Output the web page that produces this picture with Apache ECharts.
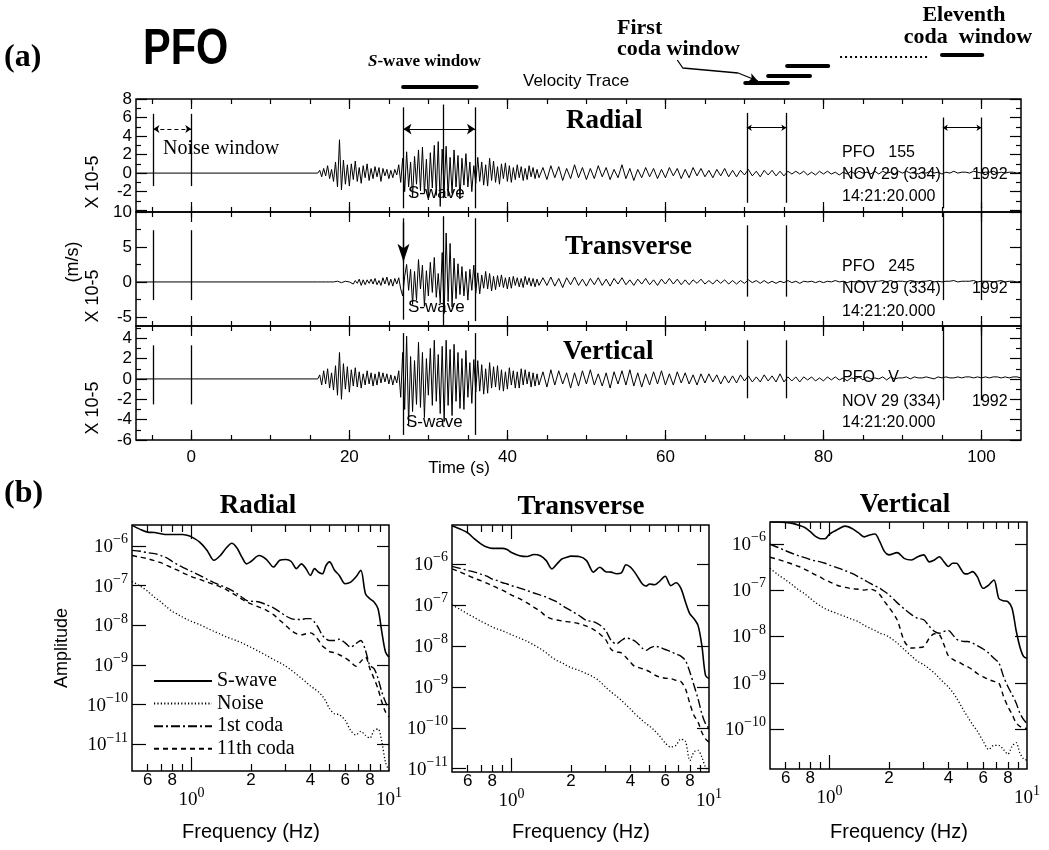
<!DOCTYPE html>
<html><head><meta charset="utf-8">
<script src="https://cdn.jsdelivr.net/npm/echarts@6/dist/echarts.min.js"></script>
<style>html,body{margin:0;padding:0;background:#fff}#chart{width:1049px;height:850px}</style>
</head><body><div id="chart"></div>
<script>
// ================= (a) velocity traces, units of 1e-5 m/s =================
const traceQuietStart = -7;          // s; traces are flat before 16 s
const fastStart = 16, fastStep = 0.25; // samples 16 s .. 44 s
const slowStart = 44.5, slowStep = 0.5; // samples 44.5 s .. 105 s

const radialFast = [0,0.3,-0.4,0.5,-0.3, 0.8,-0.6,0.4,-0.9, 1.2,-1.5,3.6,-1.8, 1.4,-1.2,0.9,-1.4, 1.0,-0.7,1.3,-0.9,
 0.6,-1.1,0.8,-0.5, 1.0,-0.8,0.5,-0.6, 0.7,-0.4,0.6,-0.9, 0.5,-0.3,0.4,-0.6, 0.3,-0.5,0.4,-0.2, 0.9,-1.0,1.6,-2.0,
 2.3,-1.5,1.2,-2.6, 1.8,-1.2,2.5,-1.9, 2.8,-2.2,1.5,-2.9, 2.2,-1.6,3.0,-2.4, 3.4,-3.6,2.6,-1.8, 2.9,-2.5,1.7,-2.2,
 2.5,-1.5,1.9,-2.8, 1.6,-1.3,2.1,-1.5, 1.2,-2.0,0.8,-1.1, 1.7,-0.9,1.2,-1.3, 0.9,-1.4,1.6,-0.8, 1.3,-1.0,0.7,-1.2,
 1.0,-0.6,1.1,-0.9, 0.8,-1.0,0.6,-0.7, 0.9,-0.5,0.7,-0.8, 0.5,-0.7,0.8,-0.4, 0.6,-0.6,0.4,-0.5];
const radialSlow = [0.6,-0.7,0.8,-0.5, 0.7,-0.8,0.5,-0.6, 0.9,-0.5,0.6,-0.7, 0.5,-0.6,0.8,-0.4, 0.6,-0.7,0.4,-0.5,
 0.9,-0.6,0.5,-0.8, 0.4,-0.5,0.6,-0.4, 0.5,-0.6,0.4,-0.5, 0.6,-0.3,0.5,-0.6, 0.4,-0.5,0.6,-0.3, 0.5,-0.4,0.3,-0.5,
 0.4,-0.3,0.5,-0.4, 0.3,-0.4,0.3,-0.2, 0.4,-0.3,0.2,-0.4, 0.3,-0.2,0.3,-0.3, 0.2,-0.3,0.2,-0.1, 0.2,-0.1,0.2,-0.2,
 0.1,-0.2,0.2,-0.1, 0.2,-0.1,0.1,-0.2, 0.1,-0.1,0.2,-0.1, 0.2,0.0,0.1,-0.1, 0.2,-0.1,0.2,0.0, 0.1,-0.1,0.2,0.0,
 0.2,0.0,0.1,-0.1, 0.1,0.0,0.2,0.0, 0.1,-0.1,0.1,0.0, 0.2,0.0,0.1,0.1, 0.0,0.2,0.1,0.0, 0.1,0.1,0.2,0.0,
 0.1,0.0,0.1,0.1, 0.0,0.1];

const transverseFast = [0,0,0,0,0, 0,0,0,0, 0,0.1,0,-0.1, 0,0.1,-0.1,0, 0.2,-0.3,0.2,-0.2, 0.4,-0.5,0.3,-0.4,
 0.3,-0.2,0.4,-0.3, 0.5,-0.4,0.2,-0.5, 0.6,-0.3,0.7,-0.5, 0.4,-0.6,0.5,-0.3, 0.6,-1.0,-2.0,0.8, 2.5,-1.2,1.8,-3.2,
 1.5,-2.6,3.2,-1.0, 2.4,-3.5,1.6,-2.0, 2.8,-1.5,3.5,-2.2, 1.2,-3.0,4.2,-4.5, 7.0,-2.8,5.5,-3.6, 3.4,-2.4,2.6,-1.8,
 2.2,-2.0,1.5,-2.6, 1.8,-1.2,2.4,-1.6, 1.3,-1.7,1.0,-0.9, 1.5,-1.0,1.2,-1.3, 0.8,-1.1,0.9,-0.7, 1.0,-0.8,0.6,-1.0,
 0.7,-0.9,0.8,-0.5, 0.6,-0.7,0.5,-0.8, 0.8,-0.4,0.6,-0.6, 0.5,-0.7,0.4,-0.5];
const transverseSlow = [0.6,-0.5,0.7,-0.6, 0.5,-0.8,0.6,-0.4, 0.7,-0.5,0.4,-0.6, 0.5,-0.4,0.6,-0.5, 0.4,-0.6,0.5,-0.3,
 0.6,-0.4,0.3,-0.5, 0.4,-0.3,0.5,-0.4, 0.3,-0.5,0.4,-0.3, 0.5,-0.3,0.4,-0.4, 0.3,-0.4,0.3,-0.2, 0.4,-0.3,0.2,-0.3,
 0.3,-0.2,0.3,-0.3, 0.2,-0.3,0.2,-0.2, 0.3,-0.1,0.2,-0.2, 0.2,-0.2,0.1,-0.2, 0.1,-0.1,0.2,-0.1, 0.1,-0.2,0.1,0.0,
 0.1,-0.1,0.1,-0.1, 0.1,0.0,0.2,0.0, 0.1,-0.1,0.1,0.0, 0.2,0.0,0.1,0.0, 0.1,0.1,0.2,0.0, 0.2,0.0,0.1,0.1,
 0.0,0.2,0.1,0.0, 0.1,0.1,0.2,0.0, 0.1,0.0,0.1,0.1, 0.2,0.0,0.1,0.1, 0.1,0.2,0.0,0.1, 0.1,0.1,0.0,0.1,
 0.2,0.0,0.1,0.1, 0.0,0.1];

const verticalFast = [0,0.4,-0.6,0.8,-0.5, 1.0,-0.9,0.6,-1.1, 1.3,-1.6,2.6,-2.0, 1.5,-1.0,1.2,-1.3, 0.9,-0.7,1.1,-0.8,
 0.7,-0.9,0.5,-0.6, 0.8,-0.5,0.6,-0.7, 0.5,-0.6,0.7,-0.4, 0.6,-0.3,0.5,-0.5, 0.4,-0.6,0.3,-0.4, 0.8,-1.8,2.6,-3.0,
 4.2,-4.5,2.2,-3.2, 1.8,-2.5,3.6,-2.8, 2.6,-3.8,2.0,-1.6, 3.0,-2.6,3.8,-2.2, 2.4,-3.4,3.2,-4.2, 3.8,-2.6,2.9,-3.6,
 3.4,-2.2,2.6,-2.9, 2.0,-3.0,2.8,-1.8, 1.6,-2.4,1.9,-1.3, 1.8,-1.2,1.4,-1.5, 1.0,-1.4,1.6,-0.9, 1.2,-0.8,1.3,-1.1,
 0.9,-1.2,0.7,-1.0, 1.1,-0.6,0.8,-0.9, 0.7,-0.9,1.0,-0.6, 0.9,-0.5,0.7,-0.8, 0.6,-0.7,0.5,-0.6];
const verticalSlow = [0.7,-0.8,0.9,-0.6, 0.8,-0.5,0.6,-0.9, 0.6,-0.7,0.8,-0.5, 0.9,-0.6,0.5,-0.7, 0.6,-0.9,0.7,-0.5,
 0.8,-0.6,0.9,-0.7, 0.6,-0.8,0.5,-0.6, 0.7,-0.5,0.8,-0.6, 0.5,-0.6,0.7,-0.4, 0.6,-0.5,0.4,-0.6, 0.5,-0.4,0.5,-0.3,
 0.4,-0.5,0.3,-0.4, 0.3,-0.4,0.4,-0.2, 0.3,-0.3,0.2,-0.3, 0.4,-0.2,0.3,-0.3, 0.5,-0.3,0.2,-0.2, 0.2,-0.3,0.2,-0.1,
 0.2,-0.2,0.1,-0.2, 0.2,-0.1,0.2,-0.1, 0.1,-0.2,0.1,0.0, 0.2,-0.1,0.2,0.0, 0.1,0.0,0.2,-0.1, 0.2,0.0,0.1,0.1,
 0.2,0.0,0.2,0.1, 0.1,0.2,0.1,0.0, 0.2,0.1,0.2,0.1, 0.1,0.2,0.1,0.2, 0.2,0.1,0.2,0.1, 0.2,0.1,0.2,0.2,
 0.1,0.2,0.1,0.2, 0.2,0.1];

// analysis windows (s)
const noiseWindow = [-4.8, 0];
const sWaveWindow = [26.85, 35.9];
const sWaveMidLine = 31.9;
const firstCodaWindow = [70.3, 75.3];
const eleventhCodaWindow = [95.1, 100];
const sWaveBar = [26.8, 36.1];
const codaBars = [[70.1, 75.5], [73.0, 78.3], [75.4, 80.6]];
const codaDots = [82.1, 93.2];
const eleventhBar = [95.0, 100.1];
const timeTicks = [0, 20, 40, 60, 80, 100];
const timeMinorTicks = [-5,0,5,10,15,20,25,30,35,40,45,50,55,60,65,70,75,80,85,90,95,100];

// ================= (b) spectra: log10 amplitude vs frequency (Hz) =================
const freqHz = [0.5,0.55,0.6,0.65,0.7,0.75,0.8,0.85,0.9,0.95,1.0,1.1,1.2,1.3,1.4,1.5,1.6,1.7,1.8,1.9,
 2.0,2.2,2.4,2.6,2.8,3.0,3.2,3.4,3.6,3.8,4.0,4.2,4.4,4.6,4.8,5.0,5.3,5.6,6.0,6.4,6.8,7.2,7.6,8.0,8.4,8.8,9.2,9.6,10];

const radialSwave = [-5.48,-5.58,-5.65,-5.66,-5.69,-5.71,-5.71,-5.71,-5.71,-5.73,-5.77,-5.90,-6.11,-6.36,-6.24,-6.05,-5.93,-6.05,-6.28,-6.45,
 -6.39,-6.24,-6.34,-6.53,-6.36,-6.34,-6.39,-6.57,-6.45,-6.57,-6.74,-6.57,-6.66,-6.70,-6.49,-6.40,-6.61,-6.74,-6.95,-6.91,-6.78,-6.61,-7.20,-7.33,-7.41,-7.58,-8.17,-8.67,-8.80];
const radialNoise = [-6.89,-7.01,-7.14,-7.29,-7.41,-7.54,-7.65,-7.72,-7.79,-7.85,-7.90,-7.98,-8.07,-8.15,-8.22,-8.29,-8.34,-8.39,-8.44,-8.50,
 -8.55,-8.66,-8.76,-8.86,-8.94,-9.03,-9.13,-9.23,-9.33,-9.43,-9.53,-9.60,-9.68,-9.78,-9.92,-10.10,-10.23,-10.25,-10.39,-10.65,-10.76,-10.67,-10.77,-10.84,-10.65,-10.61,-10.94,-11.45,-11.66];
const radialCoda1 = [-6.11,-6.13,-6.17,-6.19,-6.24,-6.30,-6.39,-6.47,-6.53,-6.59,-6.64,-6.74,-6.84,-6.92,-6.99,-7.05,-7.12,-7.20,-7.29,-7.37,
 -7.39,-7.41,-7.48,-7.56,-7.66,-7.76,-7.83,-7.85,-7.85,-7.83,-7.83,-7.92,-8.07,-8.25,-8.34,-8.38,-8.38,-8.35,-8.44,-8.55,-8.46,-8.38,-8.63,-9.01,-9.09,-9.34,-9.68,-9.93,-10.10];
const radialCoda11 = [-6.24,-6.28,-6.32,-6.37,-6.42,-6.49,-6.55,-6.61,-6.67,-6.72,-6.77,-6.84,-6.91,-6.97,-7.03,-7.10,-7.18,-7.26,-7.34,-7.41,
 -7.46,-7.54,-7.62,-7.73,-7.87,-8.00,-8.13,-8.21,-8.24,-8.21,-8.19,-8.25,-8.38,-8.52,-8.59,-8.66,-8.69,-8.74,-8.82,-8.92,-9.03,-8.91,-8.80,-9.09,-9.34,-9.60,-9.93,-10.18,-10.31];

const transverseSwave = [-5.07,-5.15,-5.24,-5.39,-5.51,-5.59,-5.62,-5.62,-5.62,-5.65,-5.72,-5.80,-5.82,-5.77,-5.80,-5.92,-6.12,-6.00,-5.88,-5.84,
 -5.81,-5.82,-5.92,-6.20,-6.08,-6.19,-6.20,-6.24,-6.22,-6.02,-6.08,-6.20,-6.35,-6.49,-6.54,-6.49,-6.51,-6.43,-6.30,-6.53,-6.46,-6.59,-6.93,-7.22,-7.34,-7.50,-7.99,-8.72,-8.80];
const transverseNoise = [-7.00,-7.11,-7.22,-7.31,-7.40,-7.47,-7.54,-7.59,-7.63,-7.68,-7.73,-7.81,-7.89,-7.98,-8.07,-8.17,-8.28,-8.36,-8.41,-8.48,
 -8.53,-8.60,-8.68,-8.76,-8.87,-9.01,-9.13,-9.23,-9.33,-9.44,-9.54,-9.65,-9.74,-9.82,-9.90,-9.96,-10.07,-10.19,-10.37,-10.47,-10.43,-10.28,-10.33,-10.80,-10.59,-10.55,-10.72,-10.96,-11.04];
const transverseCoda1 = [-6.06,-6.11,-6.16,-6.20,-6.25,-6.30,-6.37,-6.41,-6.46,-6.49,-6.53,-6.59,-6.65,-6.71,-6.76,-6.81,-6.87,-6.93,-7.01,-7.08,
 -7.14,-7.26,-7.38,-7.41,-7.49,-7.63,-7.87,-7.95,-7.87,-7.81,-7.83,-7.88,-7.96,-8.06,-8.11,-8.06,-8.01,-8.03,-8.09,-8.14,-8.20,-8.25,-8.36,-8.64,-8.97,-9.29,-9.66,-9.90,-10.02];
const transverseCoda11 = [-6.12,-6.20,-6.28,-6.35,-6.41,-6.47,-6.53,-6.59,-6.64,-6.70,-6.76,-6.85,-6.95,-7.06,-7.16,-7.28,-7.34,-7.37,-7.39,-7.41,
 -7.42,-7.46,-7.52,-7.60,-7.71,-7.85,-8.09,-8.15,-8.17,-8.28,-8.40,-8.50,-8.53,-8.56,-8.59,-8.63,-8.71,-8.76,-8.79,-8.80,-8.84,-8.87,-9.05,-9.41,-9.70,-9.86,-10.11,-10.27,-10.35];

const verticalSwave = [-5.53,-5.53,-5.54,-5.56,-5.60,-5.65,-5.74,-5.84,-5.89,-5.89,-5.79,-5.69,-5.62,-5.67,-5.76,-5.85,-5.81,-5.79,-5.96,-6.17,
 -6.24,-6.19,-6.32,-6.35,-6.28,-6.24,-6.39,-6.35,-6.28,-6.39,-6.49,-6.42,-6.42,-6.53,-6.64,-6.65,-6.60,-6.71,-6.96,-6.89,-6.78,-7.18,-7.23,-7.25,-7.39,-7.86,-8.22,-8.43,-8.47];
const verticalNoise = [-6.53,-6.67,-6.78,-6.89,-7.00,-7.08,-7.18,-7.27,-7.34,-7.40,-7.44,-7.51,-7.57,-7.63,-7.68,-7.76,-7.82,-7.87,-7.93,-7.96,
 -8.01,-8.14,-8.29,-8.42,-8.54,-8.61,-8.70,-8.79,-8.90,-9.00,-9.09,-9.20,-9.33,-9.47,-9.61,-9.73,-9.90,-10.04,-10.26,-10.44,-10.35,-10.35,-10.44,-10.54,-10.37,-10.29,-10.51,-10.64,-10.67];
const verticalCoda1 = [-6.01,-6.08,-6.15,-6.21,-6.26,-6.30,-6.34,-6.37,-6.39,-6.42,-6.46,-6.52,-6.58,-6.64,-6.71,-6.78,-6.85,-6.91,-6.96,-7.03,
 -7.10,-7.27,-7.41,-7.53,-7.61,-7.64,-7.78,-7.89,-7.93,-7.89,-7.87,-7.96,-8.06,-8.09,-8.11,-8.11,-8.14,-8.20,-8.27,-8.36,-8.47,-8.57,-8.86,-9.08,-9.25,-9.43,-9.65,-9.79,-9.88];
const verticalCoda11 = [-6.29,-6.34,-6.39,-6.44,-6.49,-6.55,-6.61,-6.67,-6.72,-6.78,-6.82,-6.90,-6.94,-6.97,-6.98,-7.00,-6.98,-7.01,-7.10,-7.25,
 -7.37,-7.64,-8.11,-8.25,-8.24,-8.22,-8.04,-7.94,-7.96,-8.18,-8.42,-8.49,-8.54,-8.57,-8.62,-8.65,-8.72,-8.80,-8.87,-8.93,-8.97,-9.00,-9.29,-9.51,-9.68,-9.86,-9.94,-9.97,-9.99];

const freqLabels = [0.6, 0.8, 2, 4, 6, 8];
const freqMinorTicks = [0.6,0.7,0.8,0.9,2,3,4,5,6,7,8,9];
const legendNames = ['S-wave', 'Noise', '1st coda', '11th coda'];

// ================= build =================
const K = '#000';
const SANS = "'Liberation Sans', Arial, sans-serif";
const SERIF = "'Liberation Serif', 'Times New Roman', serif";

const grids = [], xAxis = [], yAxis = [], series = [];
function addX(gi, o) { xAxis.push(Object.assign({gridIndex: gi, axisLine: {show: false, onZero: false}, splitLine: {show: false}}, o)); return xAxis.length - 1; }
function addY(gi, o) { yAxis.push(Object.assign({gridIndex: gi, axisLine: {show: false, onZero: false}, splitLine: {show: false}}, o)); return yAxis.length - 1; }
function ticks(vals, len) { return {show: true, inside: true, length: len, customValues: vals, lineStyle: {color: K, width: 1.2}}; }
const noLabel = {show: false};

function traceData(fast, slow) {
  const d = [[traceQuietStart, 0]];
  fast.forEach((v, i) => d.push([fastStart + i * fastStep, v]));
  slow.forEach((v, i) => d.push([slowStart + i * slowStep, v]));
  return d;
}
function vseg(t, y1, y2) { return [{coord: [t, y1]}, {coord: [t, y2]}]; }
function harrow(t1, t2, y, size, dashed) {
  return [{coord: [t1, y], symbol: 'arrow', symbolSize: size, lineStyle: {type: dashed ? [4, 3] : 'solid', width: 1.2, color: K}},
          {coord: [t2, y], symbol: 'arrow', symbolSize: size}];
}

const traceDefs = [
  {top: 99, height: 113, min: -4.2, max: 8, labels: [-2,0,2,4,6,8], major: [-4,-2,0,2,4,6,8], minor: [-3,-1,1,3,5,7],
   fast: radialFast, slow: radialSlow,
   marks: [vseg(noiseWindow[0], 6.4, -1.4), vseg(noiseWindow[1], 6.4, -1.4),
           vseg(sWaveWindow[0], 7.1, -3.8), vseg(sWaveMidLine, 7.4, -2.7), vseg(sWaveWindow[1], 7.1, -3.8),
           vseg(firstCodaWindow[0], 6.5, -3.2), vseg(firstCodaWindow[1], 6.5, -3.2),
           vseg(eleventhCodaWindow[0], 6.0, -3.8), vseg(eleventhCodaWindow[1], 6.0, -3.8),
           harrow(noiseWindow[0], noiseWindow[1], 4.75, 6, true), harrow(sWaveWindow[0], sWaveWindow[1], 4.75, 8, false),
           harrow(firstCodaWindow[0], firstCodaWindow[1], 4.9, 5, false), harrow(eleventhCodaWindow[0], eleventhCodaWindow[1], 4.9, 5, false)]},
  {top: 212, height: 114, min: -6.3, max: 10, labels: [-5,0,5,10], major: [-5,0,5,10], minor: [-2.5,2.5,7.5],
   fast: transverseFast, slow: transverseSlow,
   marks: [vseg(noiseWindow[0], 7.4, -2.6), vseg(noiseWindow[1], 7.4, -2.6),
           vseg(sWaveWindow[0], 9.1, -5.4), vseg(sWaveMidLine, 9.4, -6.2), vseg(sWaveWindow[1], 9.1, -5.6),
           vseg(firstCodaWindow[0], 8.1, -2.1), vseg(firstCodaWindow[1], 8.1, -2.1),
           vseg(eleventhCodaWindow[0], 10, -2.6), vseg(eleventhCodaWindow[1], 10, -2.6),
           [{coord: [sWaveWindow[0], 8.5], symbol: 'none'}, {coord: [sWaveWindow[0], 2.9], symbol: 'arrow', symbolSize: [9, 18]}]]},
  {top: 326, height: 114, min: -6, max: 5.2, labels: [-6,-4,-2,0,2,4], major: [-6,-4,-2,0,2,4], minor: [-5,-3,-1,1,3,5],
   fast: verticalFast, slow: verticalSlow,
   marks: [vseg(noiseWindow[0], 3.3, -2.5), vseg(noiseWindow[1], 3.3, -2.5),
           vseg(sWaveWindow[0], 4.5, -5.5), vseg(sWaveWindow[1], 4.5, -5.5),
           vseg(firstCodaWindow[0], 3.8, -1.9), vseg(firstCodaWindow[1], 3.8, -1.9),
           vseg(eleventhCodaWindow[0], 5.2, -2.1), vseg(eleventhCodaWindow[1], 5.2, -2.1)]}
];

traceDefs.forEach((d, i) => {
  grids.push({left: 136, right: 28, top: d.top, height: d.height, show: true, borderColor: K, borderWidth: 1.5, outerBoundsMode: 'none'});
  const base = {type: 'value', min: -7, max: 105};
  const xb = addX(i, Object.assign({}, base, {position: 'bottom', axisTick: ticks(timeMinorTicks, 5),
    axisLabel: i === 2 ? {customValues: timeTicks, color: K, fontFamily: SANS, fontSize: 17, margin: 9} : noLabel}));
  addX(i, Object.assign({}, base, {position: 'top', axisTick: ticks(timeMinorTicks, 5), axisLabel: noLabel}));
  addX(i, Object.assign({}, base, {position: 'bottom', axisTick: ticks(timeTicks, 10), axisLabel: noLabel}));
  addX(i, Object.assign({}, base, {position: 'top', axisTick: ticks(timeTicks, 10), axisLabel: noLabel}));
  const yb = {type: 'value', min: d.min, max: d.max};
  const yl = addY(i, Object.assign({}, yb, {position: 'left', axisTick: ticks(d.major, 11),
    axisLabel: {customValues: d.labels, color: K, fontFamily: SANS, fontSize: 17, margin: 4}}));
  addY(i, Object.assign({}, yb, {position: 'left', axisTick: ticks(d.minor, 5), axisLabel: noLabel}));
  addY(i, Object.assign({}, yb, {position: 'right', axisTick: ticks(d.major, 11), axisLabel: noLabel}));
  addY(i, Object.assign({}, yb, {position: 'right', axisTick: ticks(d.minor, 5), axisLabel: noLabel}));
  series.push({type: 'line', xAxisIndex: xb, yAxisIndex: yl, data: traceData(d.fast, d.slow), symbol: 'none',
    lineStyle: {color: K, width: 1}, silent: true, clip: true,
    markLine: {silent: true, symbol: ['none', 'none'], label: {show: false}, emphasis: {disabled: true},
      lineStyle: {color: K, width: 1.3, type: 'solid'}, data: d.marks}});
});

// header strip above the traces (window bars), shares the time scale
grids.push({left: 136, right: 28, top: 0, height: 99, show: false, outerBoundsMode: 'none'});
const hx = addX(3, {type: 'value', min: -7, max: 105, show: false});
const hy = addY(3, {type: 'value', min: 0, max: 99, inverse: true, show: false});
function bar(win, y, style) {
  series.push({type: 'line', xAxisIndex: hx, yAxisIndex: hy, data: [[win[0], y], [win[1], y]], symbol: 'none', silent: true,
    lineStyle: Object.assign({color: K, width: 4, cap: 'round'}, style || {})});
}
bar(sWaveBar, 87);
bar(codaBars[0], 83); bar(codaBars[1], 76); bar(codaBars[2], 66);
bar(codaDots, 57, {width: 2, type: [2, 3], cap: 'butt'});
bar(eleventhBar, 55);
series.push({type: 'line', xAxisIndex: hx, yAxisIndex: hy, data: [[61.5, 60], [62.2, 68], [69.2, 73]], symbol: 'none', silent: true,
  lineStyle: {color: K, width: 1.3},
  markLine: {silent: true, label: {show: false}, lineStyle: {color: K, width: 1.3, type: 'solid'},
    data: [[{coord: [69.2, 73], symbol: 'none'}, {coord: [71.7, 81], symbol: 'arrow', symbolSize: [7, 9]}]]}});

// spectra panels
const specDefs = [
  {left: 132, top: 525, width: 257, height: 246, min: -11.67, max: -5.47, dec: [-11,-10,-9,-8,-7,-6],
   curves: [radialSwave, radialNoise, radialCoda1, radialCoda11]},
  {left: 452, top: 525, width: 257, height: 247, min: -11.08, max: -5.05, dec: [-11,-10,-9,-8,-7,-6],
   curves: [transverseSwave, transverseNoise, transverseCoda1, transverseCoda11]},
  {left: 770, top: 522, width: 257, height: 247, min: -10.86, max: -5.53, dec: [-10,-9,-8,-7,-6],
   curves: [verticalSwave, verticalNoise, verticalCoda1, verticalCoda11]}
];
const supRich = {
  b: {fontFamily: SERIF, fontSize: 19, color: K, lineHeight: 24, verticalAlign: 'bottom'},
  s: {fontFamily: SERIF, fontSize: 14, color: K, lineHeight: 10, verticalAlign: 'top'}
};
const curveStyles = [
  {width: 1.6, type: 'solid'},
  {width: 1.3, type: [1.2, 2.2]},
  {width: 1.4, type: [9, 3, 2, 3]},
  {width: 1.4, type: [5, 4]}
];
specDefs.forEach((d, j) => {
  const gi = 4 + j;
  grids.push({left: d.left, top: d.top, width: d.width, height: d.height, show: true, borderColor: K, borderWidth: 1.5, outerBoundsMode: 'none'});
  const base = {type: 'log', logBase: 10, min: 0.5, max: 10};
  const xa = addX(gi, Object.assign({}, base, {position: 'bottom', axisTick: ticks(freqMinorTicks, 7),
    axisLabel: {customValues: freqLabels, formatter: v => (v < 1 ? String(Math.round(v * 10)) : String(v)),
      color: K, fontFamily: SANS, fontSize: 17, margin: 1}}));
  addX(gi, Object.assign({}, base, {position: 'top', axisTick: ticks(freqMinorTicks, 7), axisLabel: noLabel}));
  addX(gi, Object.assign({}, base, {position: 'bottom', axisTick: ticks([1], 14),
    axisLabel: {customValues: [1, 10], formatter: v => '{b|10}{s|' + Math.round(Math.log10(v)) + '}', rich: supRich, margin: 15}}));
  addX(gi, Object.assign({}, base, {position: 'top', axisTick: ticks([1], 14), axisLabel: noLabel}));
  const yb = {type: 'value', min: d.min, max: d.max};
  const ya = addY(gi, Object.assign({}, yb, {position: 'left', axisTick: ticks(d.dec, 14),
    axisLabel: {customValues: d.dec, formatter: v => '{b|10}{s|\u2212' + Math.abs(v) + '}', rich: supRich, margin: 4, padding: [0, 0, 3, 0]}}));
  addY(gi, Object.assign({}, yb, {position: 'right', axisTick: ticks(d.dec, 12), axisLabel: noLabel}));
  d.curves.forEach((c, k) => {
    series.push({name: legendNames[k], type: 'line', xAxisIndex: xa, yAxisIndex: ya, symbol: 'none', smooth: 0.3,
      data: freqHz.map((f, n) => [f, c[n]]), silent: true,
      lineStyle: Object.assign({color: K, cap: 'butt'}, curveStyles[k]), itemStyle: {color: K}});
  });
});

// texts
const G = [];
function txt(text, x, y, font, style, el) {
  G.push(Object.assign({type: 'text', x: x, y: y, silent: true,
    style: Object.assign({text: text, font: font, fill: K, align: 'left', verticalAlign: 'middle'}, style || {})}, el || {}));
}
const rot = {rotation: Math.PI / 2};
txt('(a)', 4, 58, `bold 32px ${SERIF}`);
txt('PFO', 143, 50, `bold 50px ${SANS}`, {}, {scaleX: 0.83});
txt('(b)', 4, 494, `bold 32px ${SERIF}`);
G.push({type: 'text', x: 368, y: 62, silent: true, style: {text: '{i|S}{n|-wave window}', fill: K, verticalAlign: 'middle',
  rich: {i: {fontFamily: SERIF, fontSize: 17, fontWeight: 'bold', fontStyle: 'italic', fill: K},
         n: {fontFamily: SERIF, fontSize: 17, fontWeight: 'bold', fill: K}}}});
txt('Velocity Trace', 523, 81, `17px ${SANS}`);
txt('First', 617, 28, `bold 22px ${SERIF}`);
txt('coda window', 617, 49, `bold 22px ${SERIF}`);
txt('Eleventh', 964, 15, `bold 22px ${SERIF}`, {align: 'center'});
txt('coda  window', 968, 37, `bold 22px ${SERIF}`, {align: 'center'});
txt('Radial', 566, 121, `bold 27px ${SERIF}`);
txt('Transverse', 565, 247, `bold 27px ${SERIF}`);
txt('Vertical', 563, 352, `bold 27px ${SERIF}`);
[[153, 'PFO   155'], [175, 'NOV 29 (334)'], [197, '14:21:20.000'],
 [267, 'PFO   245'], [289, 'NOV 29 (334)'], [312, '14:21:20.000'],
 [378, 'PFO   V'], [402, 'NOV 29 (334)'], [423, '14:21:20.000']].forEach(p => txt(p[1], 842, p[0], `16px ${SANS}`));
[175, 289, 402].forEach(y => txt('1992', 972, y, `16px ${SANS}`));
txt('Noise window', 163, 149, `20px ${SERIF}`);
txt('S-wave', 408, 193, `17px ${SANS}`);
txt('S-wave', 408, 307, `17px ${SANS}`);
txt('S-wave', 406, 422, `17px ${SANS}`);
txt('X 10-5', 93, 182, `18px ${SANS}`, {align: 'center'}, rot);
txt('X 10-5', 93, 296, `18px ${SANS}`, {align: 'center'}, rot);
txt('X 10-5', 93, 408, `18px ${SANS}`, {align: 'center'}, rot);
txt('(m/s)', 73, 262, `18px ${SANS}`, {align: 'center'}, rot);
txt('Time (s)', 459, 468, `17px ${SANS}`, {align: 'center'});
txt('Radial', 258, 506, `bold 27px ${SERIF}`, {align: 'center'});
txt('Transverse', 581, 507, `bold 27px ${SERIF}`, {align: 'center'});
txt('Vertical', 905, 505, `bold 27px ${SERIF}`, {align: 'center'});
txt('Amplitude', 62, 648, `18px ${SANS}`, {align: 'center'}, rot);
txt('Frequency (Hz)', 251, 832, `20px ${SANS}`, {align: 'center'});
txt('Frequency (Hz)', 581, 832, `20px ${SANS}`, {align: 'center'});
txt('Frequency (Hz)', 899, 832, `20px ${SANS}`, {align: 'center'});

const chart = echarts.init(document.getElementById('chart'));
chart.setOption({
  animation: false,
  backgroundColor: '#fff',
  grid: grids, xAxis: xAxis, yAxis: yAxis, series: series,
  legend: {data: legendNames, orient: 'vertical', left: 148, top: 666, itemWidth: 58, itemHeight: 14, itemGap: 2.6,
    selectedMode: false, itemStyle: {opacity: 0},
    textStyle: {fontFamily: SERIF, fontSize: 20, color: K}},
  graphic: G
});
</script></body></html>
